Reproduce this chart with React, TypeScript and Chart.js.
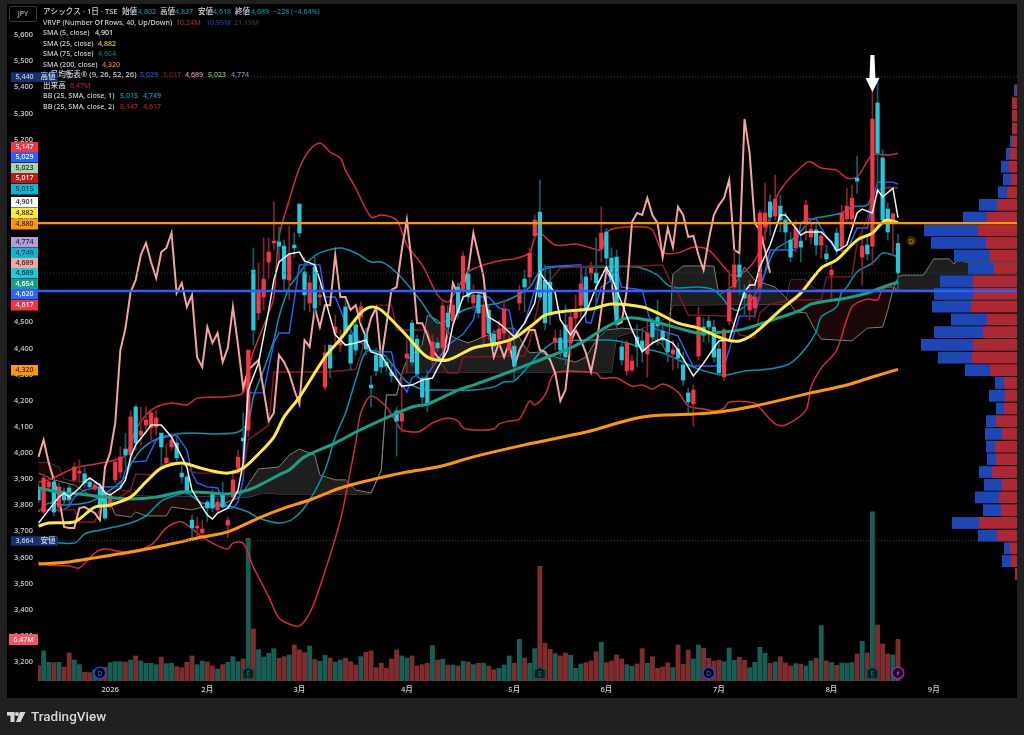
import React, { useEffect, useRef } from "react";
import { Chart, registerables } from "chart.js";
Chart.register(...registerables);

const FONT = '"Noto Sans","Noto Sans CJK JP",sans-serif';

// candles, one entry per trading day
const opens = [
3870,3774,3870,3889,3793,3847,3866,3897,3923,3920,
3889,3862,3870,3847,3793,3897,3927,4015,3992,4176,
4069,4107,4096,4099,4076,3962,4023,4038,3923,3908,
3743,3713,3694,3812,3843,3782,3839,3724,3831,3942,
4057,4088,4700,4536,4597,4731,4804,4808,4792,4662,
4796,4953,4693,4574,4712,4597,4252,4413,4459,4413,
4559,4452,4490,4520,4455,4260,4375,4375,4348,4310,
4161,4122,4364,4497,4436,4287,4287,4356,4421,4402,
4536,4505,4635,4620,4685,4574,4605,4444,4547,4455,
4436,4459,4394,4409,4574,4666,4674,4831,4922,4662,
4654,4425,4440,4490,4421,4517,4566,4674,4689,4689,
4781,4846,4746,4750,4406,4314,4318,4444,4429,4379,
4497,4520,4467,4429,4379,4398,4337,4230,4188,4371,
4482,4505,4482,4398,4291,4505,4635,4720,4612,4547,
4555,4635,4865,4961,4907,4945,4892,4815,4785,4811,
4880,4827,4854,4796,4762,4681,4842,4788,4896,4896,
5053,4750,4796,4792,5340,5129,4934,4880,4802];
const highs = [
3885,3920,3904,3904,3885,3866,3881,3962,3973,3946,
3904,3889,3885,3858,3851,3981,4023,4076,4161,4184,
4176,4176,4164,4164,4076,4038,4076,4076,3954,3916,
3763,3755,3743,3820,3858,3828,3889,3755,3935,4011,
4153,4394,4785,4727,4823,4823,4961,4865,4815,4869,
4842,4953,4750,4681,4750,4643,4413,4413,4528,4471,
4586,4471,4509,4578,4478,4295,4402,4394,4375,4337,
4176,4306,4432,4509,4452,4291,4318,4452,4440,4586,
4566,4586,4651,4769,4700,4643,4624,4593,4566,4471,
4509,4586,4452,4432,4643,4700,4785,4911,5045,4720,
4708,4471,4471,4566,4547,4605,4700,4708,4731,4823,
4942,4861,4785,4777,4432,4432,4375,4490,4478,4509,
4517,4586,4490,4459,4432,4421,4386,4249,4260,4559,
4517,4524,4509,4425,4478,4700,4777,4758,4643,4662,
4643,4930,5033,4988,5064,4988,4922,4846,4892,4834,
4968,4884,4873,4846,4796,4731,4861,4949,5014,5026,
5137,4834,4834,5435,5440,5160,4957,4919,4837];
const lows = [
3809,3766,3854,3759,3774,3801,3805,3889,3889,3866,
3858,3854,3782,3743,3782,3885,3904,3946,3962,4011,
4031,4076,4038,4069,3942,3954,4011,3962,3885,3839,
3675,3675,3667,3736,3774,3770,3789,3675,3820,3923,
3973,4061,4413,4509,4547,4670,4777,4727,4624,4586,
4750,4827,4547,4540,4528,4566,4241,4287,4406,4387,
4451,4318,4375,4501,4375,4176,4298,4306,4310,4272,
3988,4080,4306,4333,4287,4176,4157,4333,4387,4387,
4451,4490,4517,4586,4578,4547,4517,4413,4432,4387,
4413,4432,4375,4279,4547,4540,4643,4815,4586,4471,
4490,4394,4356,4337,4375,4471,4517,4528,4662,4547,
4731,4720,4643,4471,4337,4298,4310,4329,4348,4291,
4413,4413,4413,4348,4318,4325,4260,4145,4103,4356,
4425,4425,4348,4295,4279,4490,4616,4605,4528,4509,
4517,4586,4815,4834,4892,4846,4777,4731,4769,4731,
4815,4800,4758,4746,4731,4586,4758,4769,4884,4873,
4995,4643,4739,4720,4988,4873,4815,4758,4618];
const closes = [
3820,3904,3889,3774,3870,3820,3820,3946,3931,3885,
3870,3877,3801,3751,3839,3965,3984,3992,4138,4038,
4084,4126,4153,4134,4023,3981,4050,3981,3908,3851,
3713,3720,3709,3789,3789,3812,3793,3743,3897,3984,
4046,4394,4471,4624,4666,4769,4811,4792,4666,4758,
4785,4842,4605,4651,4555,4605,4383,4325,4482,4432,
4459,4344,4394,4559,4398,4249,4314,4329,4333,4295,
4122,4153,4379,4348,4302,4214,4184,4425,4402,4563,
4482,4566,4536,4754,4597,4605,4536,4566,4459,4409,
4475,4551,4429,4333,4624,4635,4765,4892,4597,4498,
4528,4440,4394,4367,4520,4547,4647,4547,4708,4651,
4842,4746,4662,4494,4356,4421,4352,4406,4394,4459,
4444,4486,4432,4387,4394,4363,4279,4195,4241,4520,
4451,4482,4367,4306,4471,4624,4720,4674,4593,4605,
4597,4919,4919,4903,4972,4892,4846,4750,4861,4788,
4949,4857,4796,4831,4743,4700,4777,4919,4945,4976,
5041,4792,4762,5278,5148,4892,4846,4915,4689];

// volume in millions of shares
const volumes = [
2.38,4.66,2.90,2.85,2.90,2.18,4.35,3.26,2.54,1.35,1.30,1.71,2.12,2.12,2.85,3.00,3.00,2.95,3.26,3.89,
3.11,2.75,2.75,2.54,3.73,2.69,2.75,2.23,2.07,2.90,3.89,2.54,3.11,2.95,2.33,1.86,2.54,2.90,3.78,3.00,
3.42,22.17,8.08,4.87,3.73,4.30,5.02,3.52,3.78,4.04,5.59,4.82,4.40,5.44,3.32,3.06,3.99,3.57,2.95,3.26,
3.52,3.00,2.49,3.78,4.45,4.66,2.07,2.75,1.97,3.42,4.82,3.89,3.57,3.89,2.33,2.54,2.75,5.49,3.26,3.37,
2.49,2.49,2.33,3.06,2.95,2.54,2.75,2.75,2.33,1.76,1.97,2.49,3.89,2.75,6.48,3.57,2.75,5.02,17.82,5.85,
4.92,4.25,3.89,4.35,3.99,1.97,2.64,2.85,3.11,4.56,6.01,2.85,3.11,4.04,3.42,2.54,2.28,2.64,5.02,2.75,
3.78,1.97,2.18,2.80,2.07,5.59,2.59,4.82,3.42,5.59,5.08,3.52,3.11,3.21,3.00,5.13,3.21,3.68,3.21,2.07,
2.90,5.23,4.30,2.75,2.95,3.78,2.80,2.33,2.69,2.64,2.33,3.11,3.52,8.60,3.11,2.85,2.43,2.80,2.75,2.85,
4.20,6.16,4.35,26.26,8.70,5.75,4.20,4.04,6.47];
const volumeSides = (
"RGGRGRRGGR"+"RGRRGGGRGR"+"GGGGRGGRRR"+"RGGRRGRGGG"+"RGRGGGGRRG"+"RRRGRGGRGG"+
"RRRGRRRRRR"+"RGGRRRRGRG"+"RGRGRGRGRR"+"GGGRGRGGRR"+"RGRRGGGRRR"+"GRRRRGGRRG"+"RRRRGR"+
"RRGGRRRRGG"+"GRRGGGGRGR"+"RRGRGGRGRG"+"RGGGRGRGRR"+"RGR").split("");

// indicator lines: [bar number, price]
const sma5: [number, number][] = [[0,3732],[2,3782],[4,3831],[5,3847],[6,3831],[8,3866],[9,3889],[10,3904],[12,3877],[13,3847],[14,3839],[16,3866],[17,3897],[18,3985],[19,4031],[21,4080],[22,4107],[24,4107],[26,4061],[28,3985],[29,3946],[30,3858],[32,3793],[33,3763],[34,3747],[35,3770],[37,3789],[38,3820],[39,3858],[40,3962],[41,4241],[43,4344],[45,4547],[46,4662],[47,4731],[49,4762],[51,4769],[52,4735],[54,4720],[55,4662],[57,4520],[58,4452],[60,4413],[62,4421],[64,4432],[65,4387],[67,4375],[69,4310],[71,4256],[73,4260],[75,4279],[77,4287],[78,4325],[80,4394],[81,4490],[83,4597],[85,4616],[87,4612],[88,4520],[90,4497],[92,4463],[93,4444],[95,4497],[97,4574],[98,4693],[99,4662],[101,4612],[102,4509],[104,4452],[105,4482],[107,4536],[109,4635],[111,4712],[112,4674],[114,4574],[116,4471],[118,4387],[120,4421],[122,4440],[124,4421],[125,4394],[127,4329],[128,4295],[130,4344],[132,4402],[133,4429],[135,4432],[137,4559],[138,4616],[139,4643],[140,4643],[141,4712],[143,4796],[145,4911],[146,4911],[148,4861],[149,4834],[150,4846],[153,4846],[155,4808],[156,4773],[158,4796],[160,4919],[161,4934],[162,4926],[163,4919],[164,5007],[165,4980],[167,5014],[168,4901]];
const sma25: [number, number][] = [[0,3720],[2,3732],[7,3736],[9,3763],[11,3793],[14,3801],[18,3831],[21,3889],[24,3942],[28,3962],[31,3946],[34,3931],[37,3923],[40,3942],[43,3996],[46,4061],[48,4138],[51,4214],[56,4367],[59,4436],[63,4536],[65,4559],[67,4547],[72,4448],[76,4367],[80,4356],[85,4402],[90,4421],[93,4440],[97,4497],[99,4528],[103,4543],[108,4551],[112,4570],[118,4559],[121,4536],[125,4497],[129,4478],[134,4436],[137,4429],[140,4459],[145,4547],[149,4612],[153,4708],[156,4739],[160,4815],[163,4842],[165,4884],[166,4892],[168,4882]];
const sma75: [number, number][] = [[0,3866],[4,3851],[8,3843],[13,3831],[18,3824],[23,3831],[28,3851],[34,3847],[37,3843],[41,3858],[44,3885],[47,3916],[49,3935],[52,3985],[58,4038],[62,4080],[67,4126],[73,4176],[76,4187],[82,4241],[85,4260],[92,4310],[98,4356],[103,4394],[107,4432],[111,4482],[115,4517],[119,4509],[125,4478],[129,4459],[134,4463],[138,4475],[144,4513],[149,4547],[151,4570],[158,4593],[162,4612],[165,4635],[168,4654]];
const sma200: [number, number][] = [[0,3575],[6,3583],[12,3602],[18,3621],[25,3648],[32,3678],[37,3698],[43,3751],[48,3789],[53,3820],[59,3866],[65,3897],[72,3927],[78,3946],[85,3985],[95,4031],[107,4080],[118,4138],[128,4149],[133,4157],[140,4180],[151,4230],[158,4260],[163,4291],[168,4320]];
const tenkan: [number, number][] = [[0,3782],[5,3782],[6,3797],[7,3831],[9,3858],[12,3870],[16,3870],[17,3935],[18,3965],[21,3969],[23,4050],[25,4061],[27,4069],[29,4011],[30,3923],[31,3885],[33,3870],[35,3866],[36,3820],[37,3789],[38,3789],[39,3812],[40,3897],[41,4230],[44,4230],[45,4329],[46,4421],[47,4459],[49,4459],[50,4586],[51,4720],[55,4720],[56,4597],[58,4597],[60,4501],[62,4440],[65,4387],[69,4387],[70,4291],[72,4233],[73,4287],[74,4298],[75,4272],[77,4329],[80,4413],[83,4455],[85,4509],[86,4597],[88,4597],[90,4555],[92,4547],[93,4444],[95,4497],[98,4689],[99,4712],[105,4720],[106,4720],[107,4501],[108,4497],[110,4635],[112,4662],[113,4700],[114,4635],[118,4624],[119,4547],[120,4478],[125,4448],[127,4367],[128,4333],[134,4333],[135,4394],[137,4524],[140,4524],[141,4612],[143,4777],[148,4777],[149,4880],[150,4896],[152,4896],[154,4827],[156,4777],[158,4773],[160,4861],[162,4861],[163,4968],[164,5037],[167,5037],[168,5029]];
const kijun: [number, number][] = [[0,3782],[7,3782],[8,3736],[11,3736],[12,3789],[14,3808],[18,3858],[19,3920],[22,3916],[25,3965],[28,3962],[30,3927],[31,3923],[40,3923],[41,4050],[45,4107],[46,4310],[57,4310],[62,4321],[63,4375],[64,4459],[66,4566],[69,4566],[70,4471],[76,4471],[78,4367],[80,4306],[82,4306],[83,4367],[95,4371],[96,4421],[98,4597],[100,4662],[102,4708],[108,4716],[118,4716],[122,4720],[124,4635],[125,4612],[127,4528],[135,4524],[137,4452],[140,4440],[141,4536],[143,4570],[147,4586],[153,4586],[154,4674],[159,4674],[160,4804],[162,4899],[163,4995],[165,5014],[168,5017]];
const chikou: [number, number][] = [[0,3985],[1,4050],[2,3962],[3,3897],[4,3828],[5,3717],[6,3713],[7,3713],[8,3789],[9,3793],[10,3782],[11,3770],[12,3743],[13,3946],[14,4000],[15,4115],[16,4394],[17,4478],[18,4616],[19,4662],[20,4758],[21,4804],[22,4731],[23,4670],[24,4769],[25,4785],[26,4842],[27,4612],[28,4651],[29,4559],[30,4605],[31,4367],[32,4329],[33,4482],[34,4421],[35,4459],[36,4348],[37,4402],[38,4559],[39,4413],[40,4249],[41,4318],[42,4337],[43,4356],[44,4241],[45,4122],[46,4153],[47,4375],[48,4348],[49,4306],[50,4241],[51,4187],[52,4432],[53,4406],[54,4555],[55,4482],[56,4566],[57,4566],[58,4758],[59,4597],[60,4597],[61,4547],[62,4566],[63,4490],[64,4444],[65,4517],[66,4555],[67,4356],[68,4490],[69,4624],[70,4635],[71,4777],[72,4892],[73,4720],[74,4497],[75,4497],[76,4452],[77,4394],[78,4367],[79,4356],[80,4471],[81,4651],[82,4605],[83,4635],[84,4700],[85,4842],[86,4758],[87,4674],[88,4482],[89,4367],[90,4421],[91,4367],[92,4421],[93,4329],[94,4394],[95,4432],[96,4471],[97,4471],[98,4394],[99,4387],[100,4356],[101,4306],[102,4199],[103,4241],[104,4421],[105,4471],[106,4432],[107,4383],[108,4310],[109,4406],[110,4547],[111,4700],[112,4662],[113,4490],[114,4501],[115,4624],[116,4884],[117,4919],[118,4911],[119,4976],[120,4911],[121,4880],[122,4750],[123,4861],[124,4788],[125,4942],[126,4911],[127,4827],[128,4831],[129,4758],[130,4700],[131,4815],[132,4911],[133,4949],[134,4976],[135,5045],[136,4777],[137,4765],[138,5278],[139,5148],[140,4880],[141,4854],[142,4777],[143,4689]];
const spanA: [number, number][] = [[0,3923],[3,3897],[7,3877],[10,3839],[14,3808],[15,3763],[18,3755],[19,3774],[21,3759],[25,3759],[26,3793],[30,3782],[32,3793],[35,3797],[39,3828],[40,3851],[43,3939],[47,3946],[49,3992],[51,4015],[54,3992],[55,3916],[58,3897],[60,3897],[62,3858],[65,3847],[67,3935],[68,4222],[70,4222],[71,4306],[72,4356],[75,4413],[76,4528],[78,4509],[81,4444],[84,4421],[91,4478],[93,4478],[95,4406],[96,4383],[98,4387],[101,4367],[105,4348],[107,4367],[109,4432],[111,4471],[114,4478],[118,4471],[122,4413],[123,4375],[124,4685],[126,4716],[132,4716],[133,4605],[136,4643],[137,4674],[138,4712],[140,4662],[144,4635],[146,4597],[148,4540],[150,4536],[152,4463],[153,4436],[159,4429],[162,4478],[165,4482],[166,4547],[167,4624],[168,4674],[169,4681],[173,4681],[175,4743],[178,4743],[179,4723],[180,4758],[181,4731],[194,4731]];
const spanB: [number, number][] = [[0,3962],[2,3962],[4,3946],[5,3897],[9,3889],[14,3866],[18,3851],[19,3835],[41,3831],[44,3847],[47,3843],[65,3843],[67,3935],[68,4222],[70,4222],[71,4306],[75,4310],[112,4310],[113,4444],[118,4475],[123,4517],[124,4566],[146,4570],[147,4662],[150,4662],[152,4624],[176,4628],[178,4555],[194,4555]];
const bb1Upper: [number, number][] = [[0,3774],[2,3808],[5,3801],[10,3812],[14,3858],[17,3908],[18,3954],[20,4011],[22,4042],[24,4061],[27,4073],[30,4076],[35,4073],[39,4080],[41,4119],[42,4214],[44,4318],[46,4432],[47,4521],[49,4635],[50,4662],[51,4689],[53,4739],[55,4766],[59,4785],[62,4766],[65,4731],[67,4731],[69,4708],[71,4670],[73,4624],[75,4574],[78,4498],[81,4517],[82,4536],[85,4559],[90,4574],[93,4597],[96,4635],[98,4693],[101,4712],[110,4712],[117,4712],[121,4681],[123,4643],[125,4632],[129,4635],[132,4624],[134,4586],[135,4559],[137,4547],[140,4605],[142,4689],[144,4777],[148,4827],[151,4892],[153,4903],[157,4919],[159,4942],[162,4949],[163,4988],[165,5014],[168,5015]];
const bb1Lower: [number, number][] = [[0,3663],[7,3655],[9,3690],[11,3701],[14,3713],[18,3732],[21,3759],[24,3816],[27,3839],[29,3847],[32,3808],[38,3793],[41,3774],[43,3751],[47,3732],[50,3751],[53,3820],[56,3935],[58,4061],[60,4153],[62,4279],[64,4387],[67,4383],[70,4318],[72,4272],[75,4245],[80,4241],[85,4241],[89,4253],[91,4272],[93,4276],[96,4337],[98,4383],[101,4425],[112,4432],[115,4421],[118,4402],[122,4383],[126,4348],[129,4321],[134,4298],[138,4314],[141,4318],[144,4325],[147,4344],[150,4402],[152,4463],[153,4521],[156,4559],[157,4616],[158,4635],[160,4693],[163,4727],[165,4766],[167,4758],[168,4749]];
const bb2Upper: [number, number][] = [[0,3889],[2,3897],[7,3942],[10,3954],[15,3973],[17,3992],[19,4088],[21,4145],[23,4176],[26,4191],[29,4184],[31,4210],[35,4214],[38,4218],[40,4230],[41,4318],[42,4387],[45,4536],[46,4597],[47,4827],[49,4968],[51,5091],[53,5160],[55,5187],[57,5152],[59,5129],[60,5083],[62,5014],[65,4903],[67,4911],[70,4892],[72,4796],[75,4720],[78,4605],[80,4578],[82,4635],[84,4693],[87,4720],[91,4739],[93,4743],[96,4766],[97,4827],[98,4842],[101,4796],[105,4800],[108,4785],[110,4777],[111,4842],[113,4861],[118,4865],[120,4854],[122,4769],[125,4766],[128,4788],[131,4777],[134,4712],[136,4674],[139,4712],[141,4777],[144,4968],[146,5033],[150,5110],[151,5114],[153,5091],[156,5083],[158,5053],[160,5056],[163,5141],[166,5141],[168,5147]];
const bb2Lower: [number, number][] = [[0,3583],[2,3571],[6,3567],[8,3560],[11,3617],[13,3632],[17,3621],[22,3648],[25,3713],[28,3736],[32,3678],[34,3655],[37,3632],[38,3655],[40,3655],[42,3564],[45,3449],[47,3368],[49,3345],[51,3338],[53,3387],[55,3487],[59,3743],[61,3935],[62,4038],[63,4153],[65,4218],[68,4176],[70,4115],[71,4088],[74,4080],[75,4088],[77,4115],[80,4134],[82,4122],[83,4096],[85,4088],[89,4092],[90,4111],[92,4122],[94,4130],[96,4199],[97,4184],[99,4222],[101,4306],[109,4306],[110,4287],[113,4287],[116,4256],[118,4260],[120,4245],[122,4264],[125,4233],[127,4180],[130,4168],[132,4161],[134,4172],[135,4195],[140,4191],[141,4172],[144,4111],[146,4107],[150,4164],[151,4253],[153,4325],[156,4394],[159,4559],[162,4589],[164,4586],[165,4628],[167,4635],[168,4617]];

// horizontal levels
const drawnLevels = [4880, 4620];
const dottedLevels = [5440, 4689, 3664];

// visible-range volume profile, top row first
const vpPrices = [5388,5339,5291,5242,5193,5145,5096,5047,4998,4950,4901,4852,4804,4755,4706,4657,4609,4560,4511,4463,4414,4365,4317,4268,4219,4170,4122,4073,4024,3976,3927,3878,3830,3781,3732,3683,3635,3586,3537];
const vpDown = [1,5,5,5,5,7,8,6,10,20,30,39,31,27,23,44,44,46,30,34,44,45,27,13,12,13,21,15,22,21,25,15,18,16,38,20,7,6,2];
const vpUp = [2,0,0,0,2,4,8,8,9,18,24,54,55,36,26,33,39,39,36,49,52,34,25,9,16,8,10,17,9,9,13,18,24,18,27,19,6,9,0];

// axis labels
const priceTicks = [5600,5500,5400,5300,5200,5100,5000,4900,4800,4700,4600,4500,4400,4300,4200,4100,4000,3900,3800,3700,3600,3500,3400,3300,3200];
const timeTicks = [14,33,51,72,93,111,133,155,175];
const timeLabels = ["2026","2月","3月","4月","5月","6月","7月","8月","9月"];

// last-value tags on the price axis
const tagTexts = ["5,147","5,029","5,023","5,017","5,015","4,901","4,882","4,880","4,774","4,749","4,689","4,689","4,654","4,620","4,617","4,320"];
const tagRows = [147,157,168,178,189,202,213,224,242,253,263,273,284,294,305,370];
const tagFills = ["#f23645","#2962ff","#a5d6a7","#b71c1c","#00bcd4","#ffffff","#ffeb3b","#ff9800","#b39ddb","#00bcd4","#f8a5a5","#26c6da","#1b9e83","#2962ff","#f23645","#ff9800"];
const tagInks = ["#fff","#fff","#222","#fff","#123","#111","#222","#222","#222","#123","#222","#123","#fff","#fff","#fff","#222"];

// event markers: bar numbers
const dividendBars = [12, 131];
const earningsBars = [41, 98, 163];
const flashBars = [168];

const UP = "#f23645";
const DOWN = "#26c6da";
const PRICE_MIN = 3127;
const PRICE_MAX = 5715;

const legendLines: [string, number, string][][] = [
  [["アシックス · 1日 · TSE",43,"#d1d4dc"],["始値",122,"#d1d4dc"],["4,802",138,"#0097a7"],["高値",160,"#d1d4dc"],["4,837",175,"#0097a7"],["安値",198,"#d1d4dc"],["4,618",213,"#0097a7"],["終値",235,"#d1d4dc"],["4,689",251,"#0097a7"],["−228 (−4.64%)",273,"#0097a7"]],
  [["VRVP (Number Of Rows, 40, Up/Down)",43,"#d1d4dc"],["10.24M",176,"#a3222e"],["10.95M",206,"#1b3f9e"],["21.19M",234,"#3a3a3a"]],
  [["SMA (5, close)",43,"#d1d4dc"],["4,901",95,"#e8e8e8"]],
  [["SMA (25, close)",43,"#d1d4dc"],["4,882",98,"#e6d22f"]],
  [["SMA (75, close)",43,"#d1d4dc"],["4,654",98,"#0f7d68"]],
  [["SMA (200, close)",43,"#d1d4dc"],["4,320",102,"#e88a00"]],
  [["一目均衡表® (9, 26, 52, 26)",43,"#d1d4dc"],["5,029",140,"#2457d6"],["5,017",163,"#8e1c1c"],["4,689",185,"#e79a9a"],["5,023",208,"#8fbf8f"],["4,774",231,"#9a85c4"]],
  [["出来高",43,"#d1d4dc"],["6.47M",70,"#a3222e"]],
  [["BB (25, SMA, close, 1)",43,"#d1d4dc"],["5,015",120,"#00a5ba"],["4,749",143,"#00a5ba"]],
  [["BB (25, SMA, close, 2)",43,"#d1d4dc"],["5,147",120,"#c8202e"],["4,617",143,"#c8202e"]],
];
const legendRows = [12,23,33,44,54,65,75,86,96,107];

const xy = (pts: [number, number][]) => pts.map(([x, y]) => ({ x, y }));
const lineSet = (pts: [number, number][], color: string, width: number, order: number, extra: any = {}) => ({
  type: "line", data: xy(pts), borderColor: color, borderWidth: width, pointRadius: 0, tension: 0, order,
  xAxisID: "x", yAxisID: "y", fill: false, ...extra,
});

const paintPlugin = {
  id: "paint",
  beforeDraw(c: any) {
    const g = c.ctx;
    g.save();
    g.fillStyle = "#202020";
    g.fillRect(0, 0, 1024, 735);
    g.fillStyle = "#000";
    g.fillRect(7, 4, 1010, 694);
    g.restore();
  },
  afterDraw(c: any) {
    const g = c.ctx;
    const xs = c.scales.x;
    const ys = c.scales.y;
    const text = (s: string, x: number, y: number, color: string, font: string, align = "left") => {
      g.fillStyle = color; g.font = font; g.textAlign = align; g.textBaseline = "middle"; g.fillText(s, x, y);
    };
    g.save();
    const small = `500 7.1px ${FONT}`;
    const wide = `500 7.6px ${FONT}`;
    legendLines.forEach((items, r) => {
      items.forEach(([s, x, color]) => text(s, x, legendRows[r], color, /[^\x00-\x7f]/.test(s) && !/^−/.test(s) ? wide : small));
    });
    // JPY box
    g.strokeStyle = "#3c3c3c"; g.lineWidth = 1;
    g.beginPath(); g.roundRect(9.5, 6.5, 27, 15, 2); g.stroke();
    text("JPY", 23, 14, "#b8b8b8", small, "center");
    // value tags
    tagTexts.forEach((s, i) => {
      g.fillStyle = tagFills[i];
      g.fillRect(11, tagRows[i] - 5, 27, 10.5);
      text(s, 24.5, tagRows[i], tagInks[i], small, "center");
    });
    // high and low tags
    const hiLo: [string, string, number][] = [["5,440","高値",ys.getPixelForValue(dottedLevels[0])],["3,664","安値",ys.getPixelForValue(dottedLevels[2])]];
    hiLo.forEach(([v, n, y]) => {
      g.fillStyle = "#17336e"; g.fillRect(11, y - 4.5, 47, 9.5);
      text(v, 24.5, y, "#c8d2e8", small, "center");
      text(n, 48, y, "#c8d2e8", wide, "center");
    });
    // volume tag
    g.fillStyle = "#f7525f"; g.fillRect(9, 634, 29, 11);
    text("6.47M", 23.5, 639.5, "#fff", small, "center");
    // down arrow over the spike
    const ax = xs.getPixelForValue(163);
    g.fillStyle = "#fff";
    g.beginPath();
    g.moveTo(ax - 2, 55); g.lineTo(ax + 2, 55); g.lineTo(ax + 3, 78); g.lineTo(ax + 7, 78);
    g.lineTo(ax, 92); g.lineTo(ax - 7, 78); g.lineTo(ax - 3, 78); g.closePath(); g.fill();
    // events
    const my = 673;
    dividendBars.forEach((b) => {
      const x = xs.getPixelForValue(b);
      g.fillStyle = "#000"; g.strokeStyle = "#1848cc"; g.lineWidth = 1.5;
      g.beginPath(); g.arc(x, my, 5.8, 0, Math.PI * 2); g.fill(); g.stroke();
      text("D", x, my + 0.5, "#1d55dd", small, "center");
    });
    earningsBars.forEach((b) => {
      const x = xs.getPixelForValue(b);
      g.fillStyle = "#06201d"; g.strokeStyle = "#0f4f49"; g.lineWidth = 1.5;
      g.beginPath();
      g.moveTo(x, my - 6); g.lineTo(x + 5.5, my - 3); g.lineTo(x + 5.5, my + 5.5); g.lineTo(x - 5.5, my + 5.5); g.lineTo(x - 5.5, my - 3); g.closePath();
      g.fill(); g.stroke();
      text("E", x, my + 0.5, "#1b6f66", small, "center");
    });
    flashBars.forEach((b) => {
      const x = xs.getPixelForValue(b);
      g.fillStyle = "#14061a"; g.strokeStyle = "#8e2aa8"; g.lineWidth = 1.5;
      g.beginPath(); g.arc(x, my, 5.8, 0, Math.PI * 2); g.fill(); g.stroke();
      g.fillStyle = "#a040c0";
      g.beginPath(); g.moveTo(x + 1.2, my - 3.6); g.lineTo(x - 2, my + 0.8); g.lineTo(x - 0.2, my + 0.8); g.lineTo(x - 1.2, my + 3.6); g.lineTo(x + 2, my - 0.8); g.lineTo(x + 0.2, my - 0.8); g.closePath(); g.fill();
    });
    // upcoming dividend dot
    const dx = xs.getPixelForValue(170.6);
    g.fillStyle = "#3a2408";
    g.beginPath(); g.arc(dx, 241, 5, 0, Math.PI * 2); g.fill();
    text("D", dx, 241.5, "#c77a12", small, "center");
    // logo
    g.fillStyle = "#d6d6d6";
    g.fillRect(7, 712, 7.5, 3.6); g.fillRect(10.5, 712, 4, 10);
    g.beginPath(); g.arc(17, 714, 2, 0, Math.PI * 2); g.fill();
    g.beginPath(); g.moveTo(20, 712); g.lineTo(25.5, 712); g.lineTo(20.5, 722); g.lineTo(16, 722); g.closePath(); g.fill();
    text("TradingView", 31, 717.5, "#d6d6d6", `500 13.5px Roboto,${FONT}`);
    g.restore();
  },
};

export default function App() {
  const ref = useRef<HTMLCanvasElement | null>(null);
  useEffect(() => {
    if (!ref.current) return;
    const bars = opens.map((_, i) => i);
    const xMin = -0.1;
    const xMax = 191.26;
    const vpSets: any[] = [];
    vpPrices.forEach((p, i) => {
      if (vpUp[i] > 0) vpSets.push({
        type: "line", xAxisID: "xVp", yAxisID: "y", order: 11,
        data: [{ x: vpDown[i], y: p }, { x: vpDown[i] + vpUp[i], y: p }],
        borderColor: "#1d47b4", borderWidth: 11.8, pointRadius: 0, borderCapStyle: "butt", fill: false,
      });
      vpSets.push({
        type: "line", xAxisID: "xVp", yAxisID: "y", order: 11,
        data: [{ x: 0, y: p }, { x: vpDown[i], y: p }],
        borderColor: "#ac2834", borderWidth: 11.8, pointRadius: 0, borderCapStyle: "butt", fill: false,
      });
    });
    const smooth = { tension: 0.3 };
    const chart = new Chart(ref.current, {
      type: "bar",
      data: {
        datasets: [
          { ...lineSet(spanA, "#76846c", 1, 13), fill: { target: "+1", above: "#1e1e1e", below: "#1c0808" } },
          lineSet(spanB, "#63557a", 1, 13),
          {
            type: "bar", order: 12, yAxisID: "yVol", xAxisID: "x", grouped: false, barThickness: 4.2,
            data: volumes.map((v, i) => ({ x: bars[i], y: v })),
            backgroundColor: volumeSides.map((s) => (s === "R" ? "#7f2c2e" : "#175e55")),
          },
          ...vpSets,
          lineSet(bb1Upper, "#0097ad", 1.5, 10, smooth),
          lineSet(bb1Lower, "#0097ad", 1.5, 10, smooth),
          lineSet(bb2Upper, "#d32a3c", 1.5, 10, smooth),
          lineSet(bb2Lower, "#d32a3c", 1.5, 10, smooth),
          lineSet(kijun, "#861a1f", 1.4, 9),
          lineSet(tenkan, "#2962ff", 1.4, 9),
          lineSet(chikou, "#f5a3a3", 2, 8),
          {
            type: "bar", order: 7, yAxisID: "y", xAxisID: "x", grouped: false, barThickness: 1,
            data: bars.map((i) => ({ x: i, y: [lows[i], highs[i]] })),
            backgroundColor: bars.map((i) => (closes[i] >= opens[i] ? "#8e1f2b" : "#10606e")),
          },
          {
            type: "bar", order: 6, yAxisID: "y", xAxisID: "x", grouped: false, barThickness: 3.6,
            data: bars.map((i) => ({ x: i, y: [opens[i], closes[i]] })),
            backgroundColor: bars.map((i) => (closes[i] >= opens[i] ? UP : DOWN)),
          },
          lineSet(sma200, "#ff9800", 3, 5, smooth),
          lineSet(sma75, "#17a085", 3, 5, smooth),
          lineSet(sma25, "#ffeb3b", 3, 4, smooth),
          lineSet(sma5, "#f2f2f2", 1.5, 3),
          ...dottedLevels.map((v) => lineSet([[xMin, v], [xMax, v]], v === 4689 ? "#0b4f55" : "#3d3d3d", 1, 2, { borderDash: [1, 2] })),
          lineSet([[xMin, drawnLevels[0]], [xMax, drawnLevels[0]]], "#ff9800", 2.4, 1),
          lineSet([[xMin, drawnLevels[1]], [xMax, drawnLevels[1]]], "#2962ff", 2.4, 1),
        ] as any,
      },
      options: {
        responsive: false,
        animation: false,
        devicePixelRatio: 1,
        layout: { padding: { top: 5, right: 7, left: 0, bottom: 0 } },
        plugins: { legend: { display: false }, tooltip: { enabled: false } },
        scales: {
          x: {
            type: "linear", min: xMin, max: xMax, offset: false,
            grid: { display: false, drawTicks: false }, border: { display: false },
            afterBuildTicks: (s: any) => { s.ticks = timeTicks.map((value) => ({ value })); },
            afterFit: (s: any) => { s.height = 54; s.paddingLeft = 0; s.paddingRight = 0; },
            ticks: {
              autoSkip: false, maxRotation: 0, padding: 4, color: "#d1d4dc",
              font: { family: FONT, size: 7.6, weight: 500 },
              callback: (v: any) => timeLabels[timeTicks.indexOf(v)] ?? "",
            },
          },
          xVp: { type: "linear", reverse: true, min: 0, max: 979, display: false, offset: false },
          y: {
            type: "linear", position: "left", min: PRICE_MIN, max: PRICE_MAX,
            grid: { display: false, drawTicks: false }, border: { display: false },
            afterBuildTicks: (s: any) => { s.ticks = priceTicks.map((value) => ({ value })); },
            afterFit: (s: any) => { s.width = 38; s.paddingTop = 0; s.paddingBottom = 0; },
            ticks: {
              autoSkip: false, padding: 5, color: "#d1d4dc",
              font: { family: FONT, size: 7.4, weight: 500 },
              callback: (v: any) => Number(v).toLocaleString("en-US"),
            },
          },
          yVol: { type: "linear", min: 0, max: 105, display: false, position: "left" },
        },
      } as any,
      plugins: [paintPlugin],
    });
    return () => chart.destroy();
  }, []);
  return (
    <div style={{ position: "fixed", left: 0, top: 0, width: 1024, height: 735 }}>
      <canvas ref={ref} width={1024} height={735} style={{ display: "block" }} />
    </div>
  );
}
